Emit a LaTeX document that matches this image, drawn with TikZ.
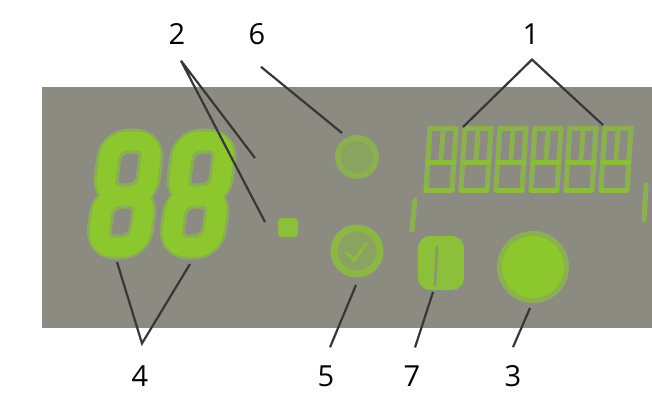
\documentclass[tikz,border=0pt]{standalone}
\usepackage{fontspec}
\setmainfont{Open Sans}
\usetikzlibrary{calc}
\definecolor{panel}{RGB}{139,139,130}
\definecolor{ledgreen}{RGB}{140,200,45}
\definecolor{calloutgray}{RGB}{55,55,55}
\tikzset{
  seg/.style={ledgreen, line width=19pt, rounded corners=16pt, line join=round},
  glow/.style={ledgreen!55!panel, line width=25pt, rounded corners=18pt, line join=round},
  txtseg/.style={ledgreen!60!panel, line width=5pt, line cap=round},
  lbl/.style={font=\fontsize{29}{31}\selectfont, inner sep=0pt},
  callout/.style={calloutgray, line width=2.2pt},
}

\begin{document}
\begin{tikzpicture}[x=1pt,y=-1pt]
  \useasboundingbox (0,0) rectangle (652,392);
  % display panel
  \fill[panel] (42,87) rectangle (652,328);

  % two seven segment digits
  \foreach \dx in {0,73} {
    \draw[glow] ({111+\dx},141) -- ({153+\dx},141) -- ({146+\dx},196) -- ({104+\dx},196) -- cycle;
    \draw[glow] ({104+\dx},196) -- ({146+\dx},196) -- ({139+\dx},247) -- ({97+\dx},247) -- cycle;
    \draw[seg] ({111+\dx},141) -- ({153+\dx},141) -- ({146+\dx},196) -- ({104+\dx},196) -- cycle;
    \draw[seg] ({104+\dx},196) -- ({146+\dx},196) -- ({139+\dx},247) -- ({97+\dx},247) -- cycle;
  }
  \fill[ledgreen!85!panel, rounded corners=4pt] (278,218) rectangle (298,237);

  % segment text
  \foreach \i in {0,...,5} {
    \pgfmathsetmacro{\xo}{426+35*\i}
    \draw[txtseg] ({\xo+4},128) -- ({\xo},190);
    \draw[txtseg] ({\xo+30},128) -- ({\xo+26},190);
    \draw[txtseg] ({\xo+17},132) -- ({\xo+15},158);
    \draw[txtseg] ({\xo+4},128) -- ({\xo+30},128);
    \draw[txtseg, ledgreen!80!panel] ({\xo+2},162) -- ({\xo+28},162);
    \draw[txtseg, ledgreen!80!panel] ({\xo},190) -- ({\xo+26},190);
  }
  \draw[txtseg] (415,200) -- (412,230);
  \draw[txtseg] (646,185) -- (644,220);

  % indicators
  \draw[ledgreen!60!panel, line width=6pt, fill=ledgreen!40!panel] (357,157) circle (19);
  \draw[ledgreen!70!panel, line width=7pt, fill=ledgreen!40!panel] (357,251) circle (23);
  \draw[ledgreen!80!panel, line width=3pt] (346,252) -- (354,260) -- (367,243);
  \fill[ledgreen!85!panel, rounded corners=12pt] (418,236) rectangle (464,290);
  \draw[panel!80!ledgreen, line width=2.5pt] (437,246) -- (435,286);
  \fill[ledgreen!60!panel] (533,267) circle (36);
  \fill[ledgreen] (533,267) circle (31);

  % labels
  \node[lbl] (l2) at (177,34) {2};
  \node[lbl] (l6) at (257,34) {6};
  \node[lbl] (l1) at (531,34) {1};
  \node[lbl] (l4) at (140,376) {4};
  \node[lbl] (l5) at (326,376) {5};
  \node[lbl] (l7) at (412,376) {7};
  \node[lbl] (l3) at (513,376) {3};

  % callout lines
  \coordinate (t2) at ($(l2.south)+(4,16)$);
  \coordinate (t6) at ($(l6.south)+(4,22)$);
  \coordinate (t1) at ($(l1.south)+(1,15)$);
  \coordinate (t4) at ($(l4.north)+(2,-22)$);
  \coordinate (t5) at ($(l5.north)+(4,-18)$);
  \coordinate (t7) at ($(l7.north)+(3,-18)$);
  \coordinate (t3) at ($(l3.north)+(0,-18)$);
  \coordinate (e2a) at (255,158);
  \coordinate (e2b) at (265,222);
  \coordinate (e6) at (342,133);
  \coordinate (e1a) at (463,127);
  \coordinate (e1b) at (603,125);
  \coordinate (e4a) at (117,262);
  \coordinate (e4b) at (190,264);
  \coordinate (e5) at (356,285);
  \coordinate (e7) at (433,292);
  \coordinate (e3) at (530,308);
  \draw[callout] (e2a) -- (t2) -- (e2b);
  \draw[callout] (t6) -- (e6);
  \draw[callout] (e1a) -- (t1) -- (e1b);
  \draw[callout] (e4a) -- (t4) -- (e4b);
  \draw[callout] (t5) -- (e5);
  \draw[callout] (t7) -- (e7);
  \draw[callout] (t3) -- (e3);
\end{tikzpicture}
\end{document}
